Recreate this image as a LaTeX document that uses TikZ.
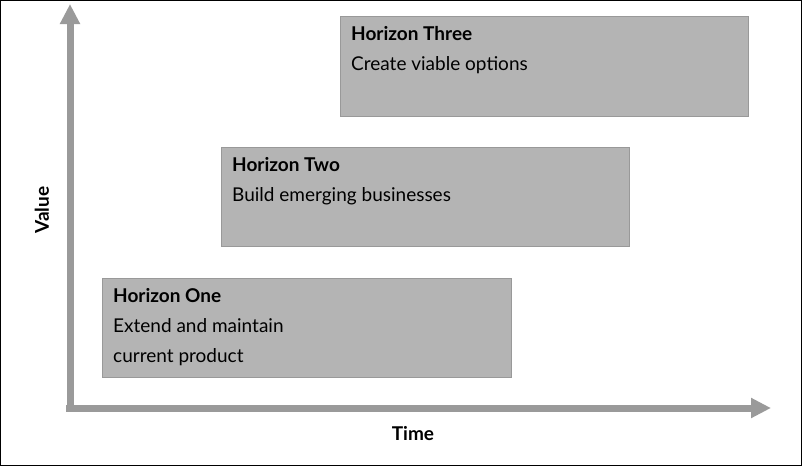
\documentclass[tikz,border=0pt]{standalone}
\usepackage{fontspec}
\setmainfont{Lato}
\usetikzlibrary{arrows.meta}
\definecolor{axisgray}{HTML}{9A9A9A}
\definecolor{boxgray}{HTML}{B4B4B4}
\begin{document}
\begin{tikzpicture}[x=1pt,y=-1pt,
  hbox/.style={draw=boxgray!85!black,line width=0.6pt,fill=boxgray,anchor=north west,inner sep=0pt},
  htext/.style={anchor=north west,align=left,font=\fontsize{19}{30}\selectfont,inner sep=0pt},
  axis/.style={axisgray,line width=7pt,-{Triangle[length=20pt,width=19pt]}},
  alabel/.style={font=\bfseries\fontsize{19}{22}\selectfont}]
\draw[black,line width=1pt,fill=white] (0.5,0.5) rectangle (801.5,465.5);
\useasboundingbox (0,0) rectangle (802,466);
\coordinate (o) at (66,408);
\coordinate (ytip) at (70,4);
\coordinate (xtip) at (771,408);
\draw[axis] (70,411) -- (ytip);
\draw[axis] (o) -- (xtip);
\node[hbox,minimum width=408pt,minimum height=100pt] (h3) at (340,16) {};
\node[hbox,minimum width=408pt,minimum height=99pt] (h2) at (221,147) {};
\node[hbox,minimum width=409pt,minimum height=99pt] (h1) at (102,278) {};
\node[htext] (t3) at (351,26) {\textbf{Horizon Three}\\Create viable options};
\node[htext] (t2) at (232,157) {\textbf{Horizon Two}\\Build emerging businesses};
\node[htext] (t1) at (113,288) {\textbf{Horizon One}\\Extend and maintain\\current product};
\node[alabel,rotate=90] (v) at (42,210) {Value};
\node[alabel] (t) at (413,434) {Time};
\end{tikzpicture}
\end{document}
